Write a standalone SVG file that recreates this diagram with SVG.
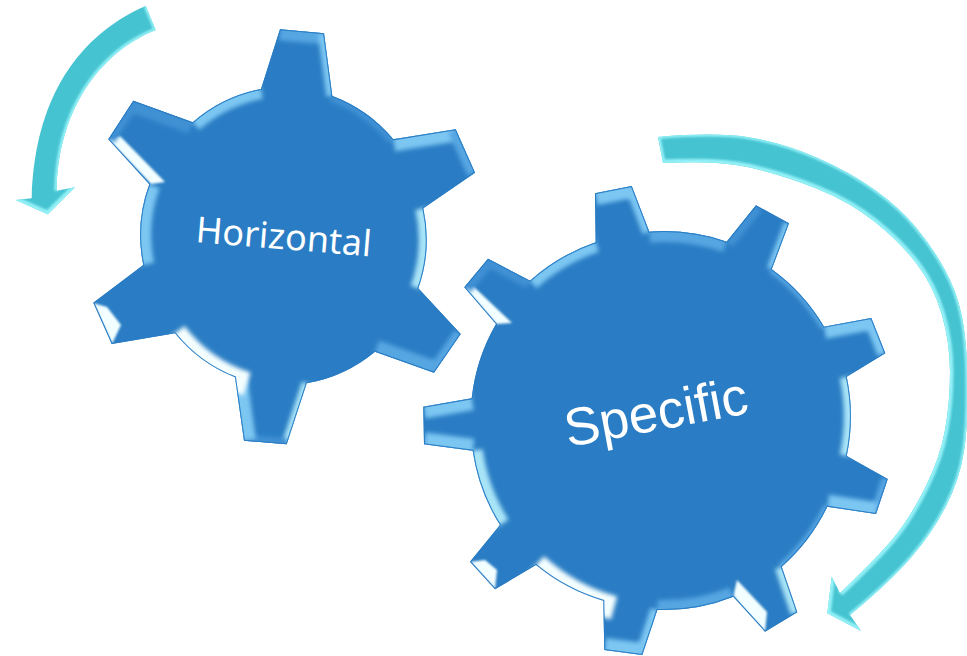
<svg xmlns="http://www.w3.org/2000/svg" width="967" height="656" viewBox="0 0 967 656">
<style>
.gear{fill:#2a7dc4}
.o{fill:none;stroke:#2a7dc4;stroke-width:2}
.b{fill:none;filter:url(#soft);stroke-linecap:butt}
.w{stroke:#f4feff}.p{stroke:#a8e4f7}.l{stroke:#7cc6f2}.m{stroke:#56a6e2}.d{stroke:#3f90d4}
.f{fill:#f2feff;filter:url(#soft2)}
.arrow{fill:#46c3d1}
.e{fill:none;stroke:#93f1f7;filter:url(#soft2)}
.label{fill:#fff}
</style>
<defs>
<filter id="soft" filterUnits="userSpaceOnUse" x="0" y="0" width="967" height="656"><feGaussianBlur stdDeviation="2.2"/></filter>
<filter id="soft2" filterUnits="userSpaceOnUse" x="0" y="0" width="967" height="656"><feGaussianBlur stdDeviation="1"/></filter>
<path id="g1" d="M261,89 L280,29.3 L324,33.3 L332.3,96 A146,146 0 0 1 393.3,139.3 L455.7,129.3 L475,172.7 L423.3,208.3 A146,146 0 0 1 418.3,288.3 L460.7,334 L434,372.7 L375,351.7 A146,146 0 0 1 306.7,383.3 L286.7,444.3 L244,440.7 L235,377.3 A146,146 0 0 1 175,333.3 L111.7,344 L93.3,302.7 L143.3,265 A146,146 0 0 1 149.3,184.3 L108.3,139.3 L133.3,100.7 L192.7,122.3 A146,146 0 0 1 261,89 Z"/>
<path id="g2" d="M595.7,242.3 L595,193.3 L631.7,186 L649.3,231.7 A190,190 0 0 1 726.7,241.7 L756,205.3 L789,223.3 L771.7,269.3 A190,190 0 0 1 824,326.7 L871.3,318 L885.3,353.3 L846.7,376.7 A190,190 0 0 1 846.7,456 L887.7,479 L876,514 L827.3,506.7 A190,190 0 0 1 781.7,566.7 L797.3,612.3 L765,631.7 L733.3,596.7 A190,190 0 0 1 657.3,610 L642.3,655 L604.3,650 L603.3,600.7 A190,190 0 0 1 536,565 L495,589.3 L470,561.7 L500,525 A190,190 0 0 1 472.7,450.7 L424,444.3 L423.3,406.7 L471.7,398.3 A190,190 0 0 1 496,324 L464.3,287.3 L488,258.7 L530,280.7 A190,190 0 0 1 595.7,242.3 Z"/>
<path id="a1" d="M145.7,6 C90,30 35,85 31.7,198.3 L15.7,200 L47.7,214.3 L75,187.3 L56.7,190.7 C58,110 100,52 155.7,30 Z"/>
<path id="a2" d="M658,137 Q717,132 750,137.5 Q783,143 816.5,157.5 Q850,172 875,190 Q900,208 916.5,228 Q933,248 945,270 Q957,292 962,317 Q967,342 967.5,383 Q968,425 964,451 Q960,478 946.5,505 Q933,532 911.5,557 Q890,582 850,615 L861,631 L827.3,613.3 L831.7,576.7 L840,593 Q877,558 893.5,538 Q910,518 925,488 Q940,458 945,430 Q950,402 950,372 Q950,342 941.5,313.5 Q933,285 916.5,263.5 Q900,242 875,222 Q850,202 816.5,188.5 Q783,175 750,167.5 Q717,160 663,163 Z"/>
<clipPath id="c1"><use href="#g1"/></clipPath>
<clipPath id="c2"><use href="#g2"/></clipPath>
<clipPath id="c3"><use href="#a1"/></clipPath>
<clipPath id="c4"><use href="#a2"/></clipPath>
</defs>
<g id="connectors">
<g id="arrow-left">
<use href="#a1" class="arrow"/>
<g clip-path="url(#c3)">
<path class="e" stroke-width="5" d="M155.7,30 C100,52 58,110 56.7,190.7"/>
<path class="e" stroke-width="4" d="M145.7,6 L155.7,30"/>
<path class="e" stroke-width="7" d="M15.7,200 L47.7,214.3 L75,187.3"/>
</g>
</g>
<g id="arrow-right">
<use href="#a2" class="arrow"/>
<g clip-path="url(#c4)">
<path class="e" stroke-width="7" d="M840,593 Q877,558 893.5,538 Q910,518 925,488 Q940,458 945,430 Q950,402 950,372 Q950,342 941.5,313.5 Q933,285 916.5,263.5 Q900,242 875,222 Q850,202 816.5,188.5 Q783,175 750,167.5 Q717,160 663,163"/>
<path class="e" stroke-width="4" d="M658,137 Q717,132 750,137.5 Q783,143 816.5,157.5 Q850,172 875,190 Q900,208 916.5,228 Q933,248 945,270 Q957,292 962,317 Q967,342 967.5,383 Q968,425 964,451 Q960,478 946.5,505 Q933,532 911.5,557 Q890,582 850,615"/>
<path class="e" stroke-width="5" d="M658,137 L663,163"/>
<path class="e" stroke-width="7" d="M861,631 L827.3,613.3 L831.7,576.7"/>
</g>
</g>
</g>
<g id="gear-horizontal">
<use href="#g1" class="gear"/>
<g clip-path="url(#c1)">
<path class="b m" stroke-width="22" d="M280,29.3 L324,33.3"/>
<path class="b l" stroke-width="12" d="M324,33.3 L332.3,96"/>
<path class="b d" stroke-width="12" d="M332.3,96 A146,146 0 0 1 393.3,139.3"/>
<path class="b l" stroke-width="24" d="M393.3,139.3 L455.7,129.3"/>
<path class="b m" stroke-width="16" d="M455.7,129.3 L475,172.7"/>
<path class="b p" stroke-width="16" d="M423.3,208.3 A146,146 0 0 1 418.3,288.3"/>
<path class="b m" stroke-width="14" d="M460.7,334 L434,372.7"/>
<path class="b m" stroke-width="24" d="M434,372.7 L375,351.7"/>
<path class="b p" stroke-width="10" d="M306.7,383.3 L286.7,444.3"/>
<path class="b d" stroke-width="12" d="M286.7,444.3 L244,440.7"/>
<path class="b l" stroke-width="24" d="M244,440.7 L235,377.3"/>
<path class="b w" stroke-width="24" d="M247,384 A146,146 0 0 1 175,333.3"/>
<polygon class="f" points="93,303 112,344 121,325 107,307"/>
<path class="b l" stroke-width="22" d="M143.3,265 A146,146 0 0 1 149.3,184.3"/>
<polygon class="f" points="108,139 151,184 165,182 120,136"/>
<path class="b d" stroke-width="14" d="M108.3,139.3 L133.3,100.7"/>
<path class="b d" stroke-width="24" d="M133.3,100.7 L192.7,122.3"/>
<path class="b l" stroke-width="20" d="M192.7,122.3 A146,146 0 0 1 261,89"/>
<use href="#g1" class="o"/>
</g>
<text class="label" transform="translate(195,242) rotate(4.7)" font-family="'Noto Sans','Open Sans',sans-serif" font-size="36">Horizontal</text>
</g>
<g id="gear-specific">
<use href="#g2" class="gear"/>
<g clip-path="url(#c2)">
<path class="b l" stroke-width="24" d="M595,193.3 L631.7,186"/>
<path class="b l" stroke-width="14" d="M631.7,186 L649.3,231.7"/>
<path class="b m" stroke-width="22" d="M649.3,231.7 A190,190 0 0 1 726.7,241.7"/>
<path class="b d" stroke-width="16" d="M726.7,241.7 L756,205.3"/>
<path class="b l" stroke-width="10" d="M789,223.3 L771.7,269.3"/>
<path class="b m" stroke-width="8" d="M771.7,269.3 A190,190 0 0 1 824,326.7"/>
<path class="b l" stroke-width="24" d="M824,326.7 L871.3,318"/>
<path class="b l" stroke-width="16" d="M871.3,318 L885.3,353.3"/>
<path class="b p" stroke-width="14" d="M846.7,376.7 A190,190 0 0 1 846.7,456"/>
<path class="b m" stroke-width="12" d="M887.7,479 L876,514"/>
<path class="b l" stroke-width="24" d="M876,514 L827.3,506.7"/>
<path class="b m" stroke-width="8" d="M827.3,506.7 A190,190 0 0 1 781.7,566.7"/>
<path class="b p" stroke-width="14" d="M781.7,566.7 L797.3,612.3"/>
<polygon class="f" points="733,597 765,632 767,612 737,580"/>
<path class="b m" stroke-width="20" d="M733.3,596.7 A190,190 0 0 1 657.3,610"/>
<path class="b l" stroke-width="14" d="M657.3,610 L642.3,655"/>
<path class="b l" stroke-width="24" d="M642.3,655 L604.3,650"/>
<path class="b w" stroke-width="24" d="M614,608 A190,190 0 0 1 536,565"/>
<polygon class="f" points="470,562 495,589 497,570 485,560"/>
<path class="b p" stroke-width="20" d="M500,525 A190,190 0 0 1 472.7,450.7"/>
<path class="b l" stroke-width="24" d="M472.7,450.7 L424,444.3"/>
<path class="b l" stroke-width="24" d="M423.3,406.7 L471.7,398.3"/>
<polygon class="f" points="464,287 496,324 512,323 473,286"/>
<path class="b d" stroke-width="16" d="M464.3,287.3 L488,258.7"/>
<path class="b d" stroke-width="16" d="M488,258.7 L530,280.7"/>
<path class="b l" stroke-width="20" d="M530,280.7 A190,190 0 0 1 595.7,242.3"/>
<use href="#g2" class="o"/>
</g>
<text class="label" transform="translate(568,447) rotate(-10.6)" font-family="'Liberation Sans',Arial,sans-serif" font-size="53">Specific</text>
</g>
</svg>
